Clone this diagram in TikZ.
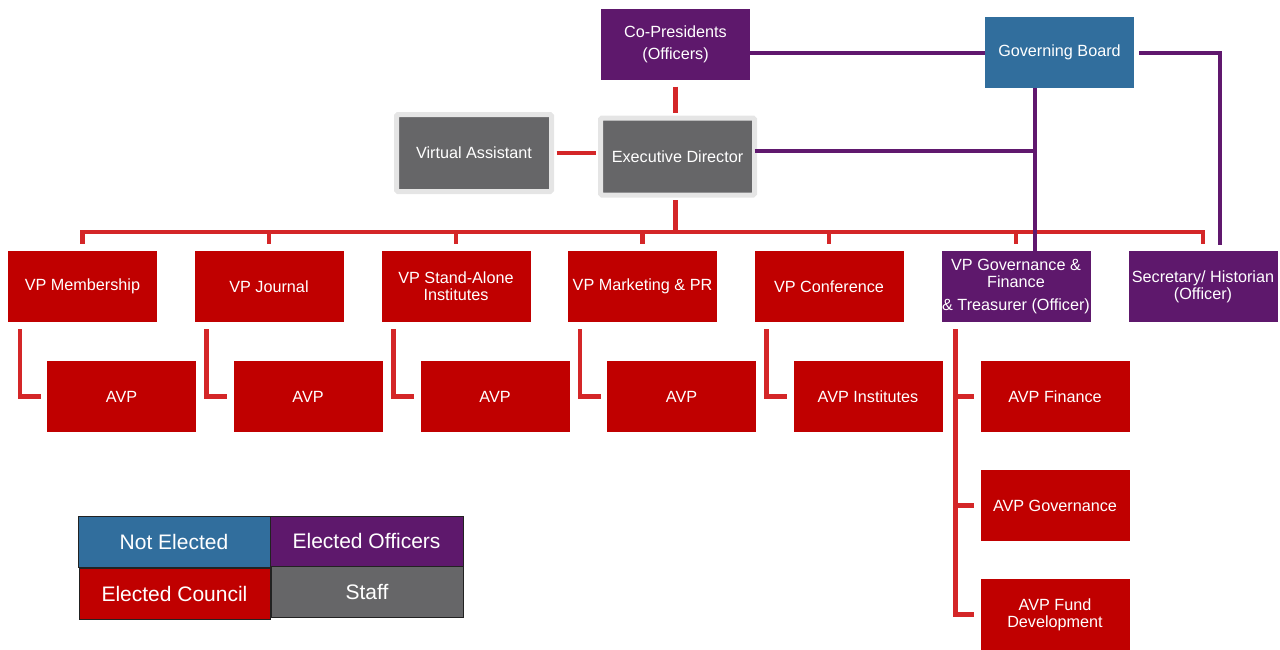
\documentclass[tikz,border=0pt]{standalone}
\usepackage{fontspec}
\setmainfont{Liberation Sans}
\usetikzlibrary{calc}
\definecolor{cpurple}{RGB}{94,24,108}
\definecolor{cblue}{RGB}{49,110,157}
\definecolor{cred}{RGB}{192,0,0}
\definecolor{cgray}{RGB}{102,102,104}
\definecolor{cframe}{RGB}{229,229,229}
\definecolor{lred}{RGB}{212,38,40}
\definecolor{lpurple}{RGB}{96,24,110}
\definecolor{cedge}{RGB}{34,34,34}
\begin{document}
\begin{tikzpicture}[x=1pt,y=-1pt,
  box/.style={minimum width=149pt,minimum height=71pt,inner sep=0pt,text=white,align=center,
    font=\fontsize{16.2}{16.8}\selectfont},
  redbox/.style={box,fill=cred},
  purplebox/.style={box,fill=cpurple},
  bluebox/.style={box,fill=cblue},
  graybox/.style={box,fill=cgray,draw=cframe,line width=5pt,rounded corners=1.5pt},
  legbox/.style={minimum width=192pt,minimum height=51pt,inner sep=0pt,text=white,draw=cedge,line width=1pt,
    font=\fontsize{21}{24}\selectfont},
  redline/.style={draw=lred,line width=4.5pt},
  purpleline/.style={draw=lpurple,line width=4pt},
]
\useasboundingbox (0,0) rectangle (1280,649);

% top
\node[purplebox] (cop) at (675.5,44) {Co-Presidents\\[5pt](Officers)};
\node[bluebox] (gb) at (1059.5,52.5) {Governing Board};
\node[graybox,minimum width=155pt,minimum height=77pt] (va) at (474,153) {Virtual Assistant};
\node[graybox,minimum width=154pt,minimum height=77pt] (ed) at (677.5,156.5) {Executive Director};

% VP row
\node[redbox] (vpm) at (82.5,286.5) {VP Membership};
\node[redbox] (vpj) at (269,286.5) {VP Journal};
\node[redbox] (vps) at (456,286.5) {VP Stand-Alone\\Institutes};
\node[redbox] (vpk) at (642.5,286.5) {VP Marketing \& PR};
\node[redbox] (vpc) at (829,286.5) {VP Conference};
\node[purplebox] (vpg) at (1016,286.5) {VP Governance \&\\Finance\\[6pt]\& Treasurer (Officer)};
\node[purplebox] (vsec) at (1203,286.5) {Secretary/ Historian\\(Officer)};

% AVP row
\node[redbox] (avm) at (121.5,396.5) {AVP};
\node[redbox] (avj) at (308,396.5) {AVP};
\node[redbox] (avs) at (495,396.5) {AVP};
\node[redbox] (avk) at (681.5,396.5) {AVP};
\node[redbox] (avc) at (868,396.5) {AVP Institutes};
\node[redbox] (avf) at (1055,396.5) {AVP Finance};
\node[redbox] (avg) at (1055,505.5) {AVP Governance};
\node[redbox] (avd) at (1055,614.5) {AVP Fund\\Development};

% legend
\node[legbox,fill=cblue] (ne) at (174,541.5) {Not Elected};
\node[legbox,fill=cpurple,minimum width=193pt,minimum height=50pt] (eo) at (366.5,541) {Elected Officers};
\node[legbox,fill=cred,minimum width=191pt] (ec) at (174.5,593.5) {Elected Council};
\node[legbox,fill=cgray] (st) at (367,591.5) {Staff};

% red connectors
\coordinate (bus) at (82.5,232);
\coordinate (cops) at ([yshift=-7pt]cop.south);
\draw[redline] (cops) -- ([yshift=2.5pt]cops |- ed.north);
\draw[redline] ([xshift=2.5pt]va.east) -- ([xshift=-2.5pt]va.east -| ed.west);
\draw[redline] ([yshift=-2.5pt]cops |- ed.south) -- (cops |- bus);
\draw[redline] ([yshift=7pt]vpm.north) -- (vpm.north |- bus) -- (vsec.north |- bus) -- ([yshift=7pt]vsec.north);
\foreach \v in {vpj,vps,vpk,vpc,vpg}
  \draw[redline] (\v.north |- bus) -- ([yshift=7pt]\v.north);
\draw[redline] ([xshift=12pt,yshift=-7pt]vpm.south west) |- ([xshift=-6pt]avm.west);
\draw[redline] ([xshift=12pt,yshift=-7pt]vpj.south west) |- ([xshift=-6pt]avj.west);
\draw[redline] ([xshift=12pt,yshift=-7pt]vps.south west) |- ([xshift=-6pt]avs.west);
\draw[redline] ([xshift=12pt,yshift=-7pt]vpk.south west) |- ([xshift=-6pt]avk.west);
\draw[redline] ([xshift=12pt,yshift=-7pt]vpc.south west) |- ([xshift=-6pt]avc.west);
\draw[redline] ([xshift=14pt,yshift=-7pt]vpg.south west) |- ([xshift=-6pt]avd.west);
\draw[redline] ([xshift=14pt]vpg.south west |- avf.west) -- ([xshift=-6pt]avf.west);
\draw[redline] ([xshift=14pt]vpg.south west |- avg.west) -- ([xshift=-6pt]avg.west);

% purple connectors
\coordinate (gbdown) at ([xshift=-24.5pt]gb.south);
\draw[purpleline] (cop.east |- gb.west) -- (gb.west);
\draw[purpleline] ([xshift=5pt]gb.east) -| ([xshift=17pt,yshift=6pt]vsec.north);
\draw[purpleline] (gbdown) -- (gbdown |- vpg.north);
\draw[purpleline] ([xshift=-2.5pt,yshift=5.5pt]ed.east) -- ([yshift=5.5pt]ed.east -| gbdown);
\end{tikzpicture}
\end{document}
